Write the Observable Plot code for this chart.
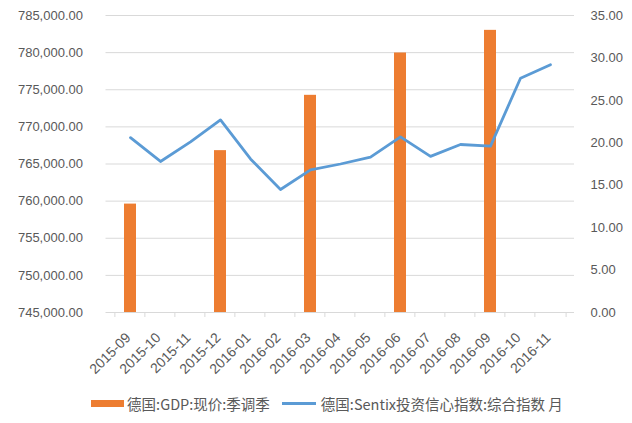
<!DOCTYPE html>
<html><head><meta charset="utf-8">
<script src="https://cdn.jsdelivr.net/npm/d3@7"></script>
<script src="https://cdn.jsdelivr.net/npm/@observablehq/plot@0.6"></script>
<style>
body{margin:0;background:#fff;width:632px;height:423px;overflow:hidden;}
#legend{display:flex;justify-content:center;align-items:center;font-family:"Noto Sans CJK SC","Noto Sans",sans-serif;font-size:14.5px;color:#595959;height:40px;margin-top:0;padding-left:22px;}
.it{display:flex;align-items:center;margin:0 4px;}
.sw{width:33px;height:7px;background:#ED7D31;margin-right:3px;}
.ln{width:34px;height:3px;background:#5B9BD5;margin-right:5px;}
</style></head>
<body><div id="chart"></div><div id="legend"></div>
<script>
const months = ["2015-09","2015-10","2015-11","2015-12","2016-01","2016-02","2016-03","2016-04","2016-05","2016-06","2016-07","2016-08","2016-09","2016-10","2016-11"];
const gdpMonths = ["2015-09","2015-12","2016-03","2016-06","2016-09"];
const gdpValues = [759600,766800,774250,779950,783000];
const sentixValues = [20.6,17.8,20.1,22.7,18.1,14.5,16.8,17.5,18.3,20.7,18.4,19.8,19.6,27.6,29.2];
const leftTicks = [745000,750000,755000,760000,765000,770000,775000,780000,785000];
const rightTicks = [0,5,10,15,20,25,30,35];
const seriesNames = ["德国:GDP:现价:季调季","德国:Sentix投资信心指数:综合指数 月"];

const yMin = 745000, yMax = 785000, rMin = 0, rMax = 35;
const toLeft = v => yMin + (v - rMin) * (yMax - yMin) / (rMax - rMin);
const toRight = v => rMin + (v - yMin) * (rMax - rMin) / (yMax - yMin);

const bars = gdpMonths.map((m,i)=>({month:m, value:gdpValues[i]}));
const line = months.map((m,i)=>({month:m, value:toLeft(sentixValues[i])}));

const W = 632, H = 383, mT = 15, mB = H - 312, mL = 105.5, mR = 58;
const plotH = H - mT - mB;
const step = (W - mL - mR) / months.length;
const fmt = d3.format(",.2f");
const font = "'Liberation Sans', Arial, sans-serif";
const grey = "#595959";

const chart = Plot.plot({
  width: W, height: H,
  marginTop: mT, marginBottom: mB, marginLeft: mL, marginRight: mR,
  style: {fontFamily: font, fontSize: "12px", color: grey, background: "#fff"},
  x: {domain: months, padding: 0.59, align: 0.5, axis: null},
  y: {domain: [yMin, yMax], axis: null},
  marks: [
    Plot.ruleY(leftTicks.slice(1), {stroke: "#d9d9d9", strokeWidth: 1}),
    Plot.ruleY([yMin], {stroke: "#d9d9d9", strokeWidth: 1}),
    Plot.ruleX(months, {x: d => d, dx: -step/2, stroke: "#d9d9d9", insetTop: plotH, insetBottom: -5}),
    Plot.ruleX(months.slice(-1), {x: d => d, dx: step/2, stroke: "#d9d9d9", insetTop: plotH, insetBottom: -5}),
    Plot.barY(bars, {x: "month", y1: yMin, y2: "value", fill: "#ED7D31"}),
    Plot.line(line, {x: "month", y: "value", stroke: "#5B9BD5", strokeWidth: 2.8, strokeLinejoin: "round", strokeLinecap: "round"}),
    Plot.text(leftTicks, {x: null, y: d => d, text: d => fmt(d), frameAnchor: "left", dx: -23, textAnchor: "end", fill: grey, fontSize: 13, fontFamily: font}),
    Plot.text(rightTicks, {x: null, y: d => toLeft(d), text: d => d.toFixed(2), frameAnchor: "right", dx: 16, textAnchor: "start", fill: grey, fontSize: 13, fontFamily: font}),
    Plot.text(months, {x: d => d, y: yMin, text: d => d, rotate: -45, textAnchor: "end", lineAnchor: "bottom", dx: 1, dy: 26, fill: grey, fontSize: 14, fontFamily: font})
  ]
});
document.getElementById("chart").appendChild(chart);

const lg = document.getElementById("legend");
lg.innerHTML = `<div class="it"><div class="sw"></div><span>${seriesNames[0]}</span></div><div class="it" style="margin-left:8px"><div class="ln"></div><span>${seriesNames[1]}</span></div>`;
</script></body></html>
